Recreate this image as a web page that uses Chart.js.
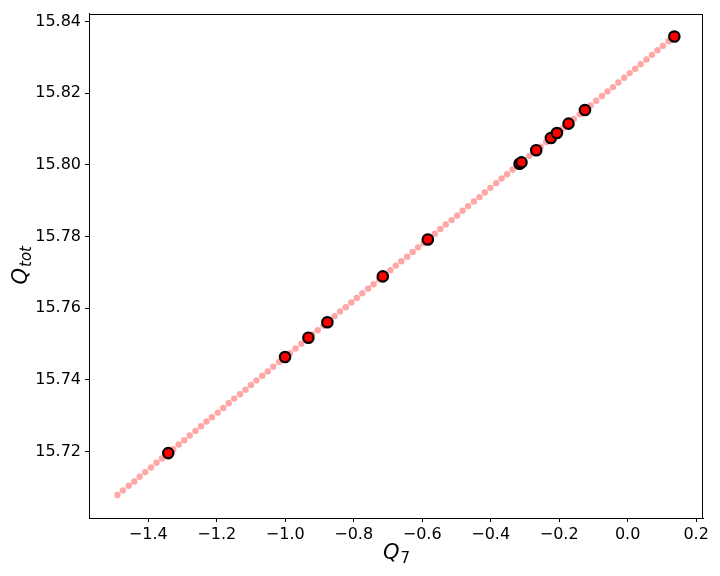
<!DOCTYPE html>
<html>
<head>
<meta charset="utf-8">
<script src="https://cdn.jsdelivr.net/npm/chart.js@4"></script>
<style>
  html, body { margin: 0; padding: 0; background: #fff; }
  #wrap { width: 720px; height: 576px; }
</style>
</head>
<body>
<div id="wrap"><canvas id="chart"></canvas></div>
<script>
// fitted line (light red dots)
const fitX = [
  -1.490, -1.474, -1.457, -1.441, -1.425, -1.409, -1.392, -1.376, -1.360, -1.344,
  -1.327, -1.311, -1.295, -1.279, -1.262, -1.246, -1.230, -1.214, -1.197, -1.181,
  -1.165, -1.149, -1.132, -1.116, -1.100, -1.084, -1.067, -1.051, -1.035, -1.018,
  -1.002, -0.986, -0.970, -0.953, -0.937, -0.921, -0.905, -0.888, -0.872, -0.856,
  -0.840, -0.823, -0.807, -0.791, -0.775, -0.758, -0.742, -0.726, -0.710, -0.693,
  -0.677, -0.661, -0.644, -0.628, -0.612, -0.596, -0.579, -0.563, -0.547, -0.531,
  -0.514, -0.498, -0.482, -0.466, -0.449, -0.433, -0.417, -0.401, -0.384, -0.368,
  -0.352, -0.336, -0.319, -0.303, -0.287, -0.271, -0.254, -0.238, -0.222, -0.205,
  -0.189, -0.173, -0.157, -0.140, -0.124, -0.108, -0.092, -0.075, -0.059, -0.043,
  -0.027, -0.010, 0.006, 0.022, 0.038, 0.055, 0.071, 0.087, 0.103, 0.120,
  0.136
];
const fitY = [
  15.7079, 15.7092, 15.7105, 15.7117, 15.7130, 15.7143, 15.7156, 15.7169, 15.7181, 15.7194,
  15.7207, 15.7220, 15.7232, 15.7245, 15.7258, 15.7271, 15.7284, 15.7296, 15.7309, 15.7322,
  15.7335, 15.7348, 15.7360, 15.7373, 15.7386, 15.7399, 15.7412, 15.7424, 15.7437, 15.7450,
  15.7463, 15.7475, 15.7488, 15.7501, 15.7514, 15.7527, 15.7539, 15.7552, 15.7565, 15.7578,
  15.7591, 15.7603, 15.7616, 15.7629, 15.7642, 15.7655, 15.7667, 15.7680, 15.7693, 15.7706,
  15.7719, 15.7731, 15.7744, 15.7757, 15.7770, 15.7782, 15.7795, 15.7808, 15.7821, 15.7834,
  15.7846, 15.7859, 15.7872, 15.7885, 15.7898, 15.7910, 15.7923, 15.7936, 15.7949, 15.7962,
  15.7974, 15.7987, 15.8000, 15.8013, 15.8025, 15.8038, 15.8051, 15.8064, 15.8077, 15.8089,
  15.8102, 15.8115, 15.8128, 15.8141, 15.8153, 15.8166, 15.8179, 15.8192, 15.8205, 15.8217,
  15.8230, 15.8243, 15.8256, 15.8268, 15.8281, 15.8294, 15.8307, 15.8320, 15.8332, 15.8345,
  15.8358
];

// measured points (red, black edge)
const q7 = [-1.3416, -1.0005, -0.9324, -0.8769, -0.7150, -0.5835, -0.3158, -0.3100,
            -0.2670, -0.2241, -0.2065, -0.1727, -0.1247, 0.1363];
const qtot = [15.7196, 15.7464, 15.7518, 15.7561, 15.7689, 15.7792, 15.8003, 15.8007,
              15.8041, 15.8075, 15.8089, 15.8115, 15.8153, 15.8358];

const xTicks = [-1.4, -1.2, -1.0, -0.8, -0.6, -0.4, -0.2, 0.0, 0.2];
const yTicks = [15.72, 15.74, 15.76, 15.78, 15.80, 15.82, 15.84];

const FONT = '"DejaVu Sans", sans-serif';

function fmt(v, d) {
  const s = Math.abs(v).toFixed(d);
  return (v < -1e-9 ? '\u2212' : '') + s;
}

// Q with a subscript, like matplotlib mathtext
function drawQ(ctx, sub, subItalic, cx, cy, angle) {
  ctx.save();
  ctx.translate(cx, cy);
  ctx.rotate(angle);
  const big = 'italic 21px ' + FONT;
  const small = (subItalic ? 'italic ' : '') + '15px ' + FONT;
  ctx.font = big;
  const w1 = ctx.measureText('Q').width;
  ctx.font = small;
  const w2 = ctx.measureText(sub).width;
  let x = -(w1 + w2) / 2;
  ctx.fillStyle = '#000';
  ctx.textBaseline = 'alphabetic';
  ctx.textAlign = 'left';
  ctx.font = big;
  ctx.fillText('Q', x, 7);
  ctx.font = small;
  ctx.fillText(sub, x + w1 + 1, 11);
  ctx.restore();
}

const frame = {
  id: 'frame',
  afterDraw(chart) {
    const { ctx, chartArea: a } = chart;
    ctx.save();
    ctx.strokeStyle = '#000';
    ctx.lineWidth = 1;
    ctx.strokeRect(Math.round(a.left) + 0.5, Math.round(a.top) + 0.5,
                   Math.round(a.right - a.left) - 1, Math.round(a.bottom - a.top));
    ctx.restore();
    drawQ(ctx, '7', false, (a.left + a.right) / 2, 552, 0);
    drawQ(ctx, 'tot', true, 20, (a.top + a.bottom) / 2, -Math.PI / 2);
  }
};

const tickGrid = { drawOnChartArea: false, drawTicks: true, tickLength: 4, color: '#000' };

new Chart(document.getElementById('chart'), {
  type: 'scatter',
  data: {
    datasets: [
      {
        data: q7.map((x, i) => ({ x, y: qtot[i] })),
        backgroundColor: '#ff0000',
        borderColor: '#000000',
        borderWidth: 2.2,
        pointRadius: 5.2,
        pointHoverRadius: 5.2
      },
      {
        data: fitX.map((x, i) => ({ x, y: fitY[i] })),
        backgroundColor: 'rgba(255, 0, 0, 0.35)',
        borderWidth: 0,
        pointRadius: 3.2,
        pointHoverRadius: 3.2
      }
    ]
  },
  options: {
    responsive: true,
    maintainAspectRatio: false,
    animation: false,
    events: [],
    layout: { padding: { top: 11, right: 17, left: 0, bottom: 0 } },
    plugins: { legend: { display: false }, tooltip: { enabled: false } },
    scales: {
      x: {
        type: 'linear',
        min: -1.573,
        max: 0.220,
        grid: tickGrid,
        border: { color: '#000', width: 1 },
        afterFit: s => { s.height = 58; },
        afterBuildTicks: s => { s.ticks = xTicks.map(v => ({ value: v })); },
        ticks: {
          color: '#000',
          padding: 3,
          maxRotation: 0,
          font: { family: FONT, size: 16 },
          callback: v => fmt(v, 1)
        }
      },
      y: {
        type: 'linear',
        min: 15.7015,
        max: 15.8422,
        grid: tickGrid,
        border: { color: '#000', width: 1 },
        afterFit: s => { s.width = 89; },
        afterBuildTicks: s => { s.ticks = yTicks.map(v => ({ value: v })); },
        ticks: {
          color: '#000',
          padding: 4,
          font: { family: FONT, size: 16 },
          callback: v => fmt(v, 2)
        }
      }
    }
  },
  plugins: [frame]
});
</script>
</body>
</html>
